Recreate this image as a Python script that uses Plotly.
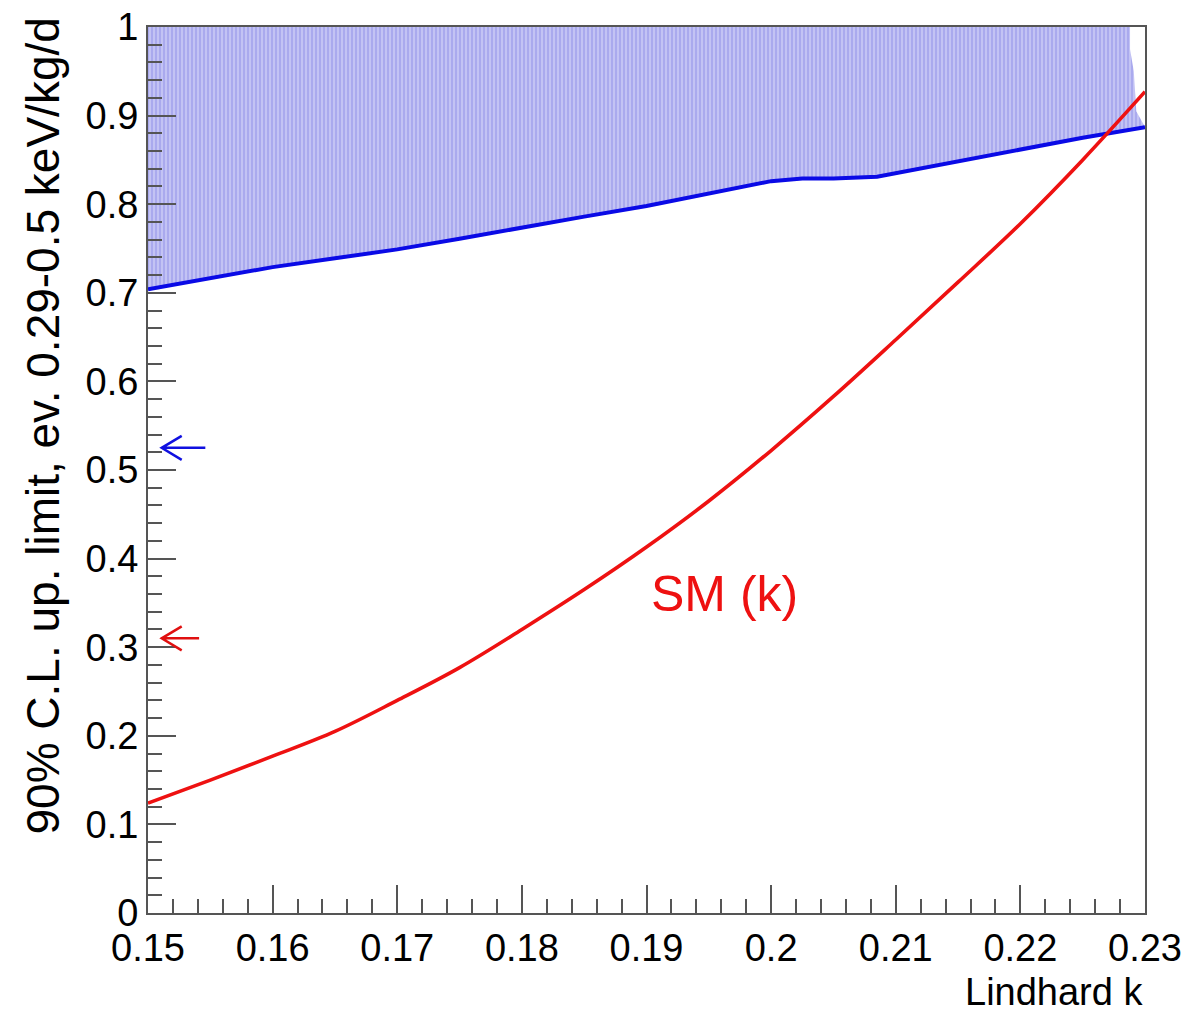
import plotly.graph_objects as go

# ---- data ----
blue_k = [0.150, 0.155, 0.160, 0.165, 0.170, 0.175, 0.180, 0.185, 0.190, 0.195,
          0.200, 0.2025, 0.205, 0.2085, 0.210, 0.215, 0.220, 0.225, 0.230]
blue_limit = [0.704, 0.716, 0.729, 0.739, 0.749, 0.761, 0.774, 0.786, 0.798, 0.812,
              0.826, 0.829, 0.829, 0.831, 0.835, 0.848, 0.862, 0.875, 0.887]

red_k = [0.150, 0.155, 0.160, 0.165, 0.170, 0.175, 0.180, 0.185, 0.190, 0.195,
         0.200, 0.205, 0.210, 0.215, 0.220, 0.225, 0.230]
red_sm = [0.124, 0.150, 0.177, 0.205, 0.240, 0.277, 0.320, 0.365, 0.413, 0.465,
          0.522, 0.583, 0.647, 0.712, 0.778, 0.850, 0.927]

# right edge of the hatched exclusion region (k, value)
fill_edge_k = [0.2293, 0.2291, 0.2288, 0.2288]
fill_edge_y = [0.905, 0.95, 0.975, 1.0]

x_ticks = [0.15, 0.16, 0.17, 0.18, 0.19, 0.20, 0.21, 0.22, 0.23]
x_ticktext = ["0.15", "0.16", "0.17", "0.18", "0.19", "0.2", "0.21", "0.22", "0.23"]
y_ticks = [0.0, 0.1, 0.2, 0.3, 0.4, 0.5, 0.6, 0.7, 0.8, 0.9, 1.0]
y_ticktext = ["0", "0.1", "0.2", "0.3", "0.4", "0.5", "0.6", "0.7", "0.8", "0.9", "1"]

arrow_levels = [0.525, 0.310]
arrow_colors = ["#1010e0", "#e01010"]
arrow_tip_k = 0.1511
arrow_tail_k = [0.1546, 0.1541]

W, H = 1186, 1013
ML, MR, MT, MB = 148, 41, 27, 100
XR = (0.15, 0.23)
YR = (0.0, 1.0)
PW, PH = W - ML - MR, H - MT - MB
kx = (XR[1] - XR[0]) / PW   # data per px
ky = (YR[1] - YR[0]) / PH

FONT = "Liberation Sans, Arial, Helvetica, sans-serif"

fig = go.Figure()

# exclusion region above the blue limit curve
poly_x = blue_k + fill_edge_k + [blue_k[0]]
poly_y = blue_limit + fill_edge_y + [1.0]
fig.add_trace(go.Scatter(
    x=poly_x, y=poly_y, mode="lines", fill="toself",
    fillcolor="#aeaef0",
    fillpattern=dict(shape="|", bgcolor="#aaaaee", fgcolor="#d4d4f8",
                     size=4, solidity=0.3, fillmode="replace"),
    line=dict(width=0), hoverinfo="skip", showlegend=False))

fig.add_trace(go.Scatter(
    x=blue_k, y=blue_limit, mode="lines",
    line=dict(color="#0a0ae6", width=4), showlegend=False))

fig.add_trace(go.Scatter(
    x=red_k, y=red_sm, mode="lines", line_shape="spline",
    line=dict(color="#ee1111", width=3.6), showlegend=False))

# arrows
for lvl, col, tail in zip(arrow_levels, arrow_colors, arrow_tail_k):
    hx = 20 * kx
    hy = 12 * ky
    path = (f"M {tail},{lvl} L {arrow_tip_k},{lvl} "
            f"M {arrow_tip_k + hx},{lvl + hy} L {arrow_tip_k},{lvl} L {arrow_tip_k + hx},{lvl - hy}")
    fig.add_shape(type="path", path=path, xref="x", yref="y",
                  line=dict(color=col, width=2.5))

fig.add_annotation(x=0.19627, y=0.36, xref="x", yref="y", text="SM (k)",
                   showarrow=False, font=dict(family=FONT, size=50, color="#ee1111"),
                   xanchor="center", yanchor="middle")

# axis titles
fig.add_annotation(x=1.0, y=-(1015 - (H - MB)) / PH, xref="paper", yref="paper",
                   text="Lindhard k", showarrow=False, xanchor="right", yanchor="bottom",
                   font=dict(family=FONT, size=38, color="black"))
fig.add_annotation(x=(42 - ML) / PW, y=((H - MB) - 16) / PH,
                   xref="paper", yref="paper", textangle=-90,
                   text="90% C.L. up. limit, ev. 0.29-0.5 keV/kg/d", showarrow=False,
                   xanchor="center", yanchor="top",
                   font=dict(family=FONT, size=46, color="black"))

axis_common = dict(
    showgrid=False, zeroline=False, showline=True, linecolor="#555555", linewidth=2,
    mirror=True, ticks="inside", ticklen=28, tickwidth=2, tickcolor="#555555",
    tickfont=dict(family=FONT, size=38, color="black"), automargin=False,
)
fig.update_xaxes(range=[XR[0] - 1e-7, XR[1] + 1e-7], tickvals=x_ticks, ticktext=x_ticktext,
                 minor=dict(dtick=0.002, ticks="inside", ticklen=14, tickwidth=2,
                            tickcolor="#555555"),
                 **axis_common)
fig.update_yaxes(range=[YR[0] - 1e-7, YR[1] + 1e-7], tickvals=y_ticks, ticktext=y_ticktext,
                 minor=dict(dtick=0.02, ticks="inside", ticklen=14, tickwidth=2,
                            tickcolor="#555555"),
                 **axis_common)

fig.update_layout(
    width=W, height=H,
    margin=dict(l=ML, r=MR, t=MT, b=MB, autoexpand=False),
    paper_bgcolor="white", plot_bgcolor="white",
    font=dict(family=FONT, color="black"),
)

fig.write_html("out.html")
